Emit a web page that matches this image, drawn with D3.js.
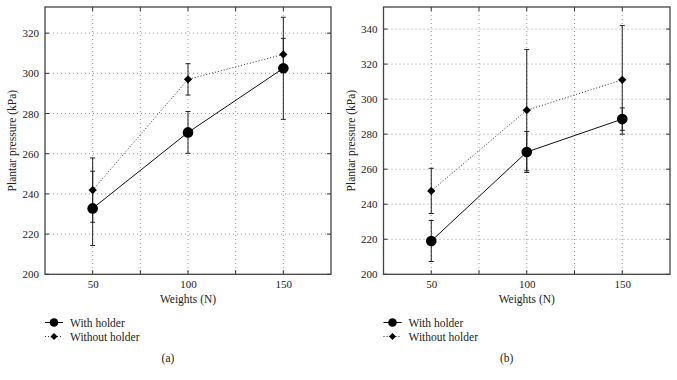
<!DOCTYPE html>
<html><head><meta charset="utf-8">
<script src="https://cdn.jsdelivr.net/npm/d3@7"></script>
<style>body{margin:0;background:#fff}svg{display:block}</style>
</head><body>
<svg id="c" width="677" height="380"></svg>
<script>
const weights = [50, 100, 150];
const xTicks = [50, 100, 150];
const xGrid = [50, 75, 100, 125, 150];
const seriesNames = ["With holder", "Without holder"];
// Panel (a)
const aWith = [232.8, 270.6, 302.5];
const aWithErr = [18.5, 10.4, 25.4];
const aWithout = [241.9, 297.0, 309.4];
const aWithoutErr = [16.0, 7.8, 8.0];
const aYTicks = [200, 220, 240, 260, 280, 300, 320];
// Panel (b)
const bWith = [219.0, 269.8, 288.6];
const bWithErr = [11.7, 11.7, 6.4];
const bWithout = [247.6, 293.7, 311.0];
const bWithoutErr = [12.9, 34.6, 31.0];
const bYTicks = [200, 220, 240, 260, 280, 300, 320, 340];

const svg = d3.select("#c");
const FONT = "Liberation Serif, Times New Roman, serif";
const FS = 11.5;

function panel(cfg) {
  const {left, right, top, bottom, yMax, yTicks, withV, withE, withoutV, withoutE, caption} = cfg;
  const x = d3.scaleLinear().domain([25, 175]).range([left, right]);
  const y = d3.scaleLinear().domain([200, yMax]).range([bottom, top]);
  const g = svg.append("g");
  // grid
  g.selectAll(".vg").data(xGrid).join("line")
    .attr("x1", d => x(d)).attr("x2", d => x(d)).attr("y1", top).attr("y2", bottom)
    .attr("stroke", "#999").attr("stroke-width", 1).attr("stroke-dasharray", "1,3");
  g.selectAll(".hg").data(yTicks.slice(1)).join("line")
    .attr("x1", left).attr("x2", right).attr("y1", d => y(d)).attr("y2", d => y(d))
    .attr("stroke", "#999").attr("stroke-width", 1).attr("stroke-dasharray", "1,3");
  // inward ticks
  g.selectAll(".lt").data(yTicks).join("line")
    .attr("x1", left).attr("x2", left + 4).attr("y1", d => y(d)).attr("y2", d => y(d)).attr("stroke", "#333");
  g.selectAll(".rt").data(yTicks).join("line")
    .attr("x1", right).attr("x2", right - 4).attr("y1", d => y(d)).attr("y2", d => y(d)).attr("stroke", "#333");
  g.selectAll(".bt").data(xGrid).join("line")
    .attr("x1", d => x(d)).attr("x2", d => x(d)).attr("y1", bottom).attr("y2", bottom - 4).attr("stroke", "#333");
  g.selectAll(".tt").data(xGrid).join("line")
    .attr("x1", d => x(d)).attr("x2", d => x(d)).attr("y1", top).attr("y2", top + 4).attr("stroke", "#333");
  // frame
  g.append("rect").attr("x", left).attr("y", top).attr("width", right - left).attr("height", bottom - top)
    .attr("fill", "none").attr("stroke", "#444").attr("stroke-width", 1.3);
  // axis labels
  const yAxis = d3.axisLeft(y).tickValues(yTicks).tickSize(0).tickPadding(6).tickFormat(d3.format("d"));
  const ya = g.append("g").attr("transform", `translate(${left},0)`).call(yAxis);
  ya.select(".domain").remove();
  ya.selectAll("text").attr("font-family", FONT).attr("font-size", 11).attr("fill", "#222");
  const xAxis = d3.axisBottom(x).tickValues(xTicks).tickSize(0).tickPadding(6).tickFormat(d3.format("d"));
  const xa = g.append("g").attr("transform", `translate(0,${bottom})`).call(xAxis);
  xa.select(".domain").remove();
  xa.selectAll("text").attr("font-family", FONT).attr("font-size", 11).attr("fill", "#222");
  g.append("text").attr("x", (left + right) / 2).attr("y", 302.5).attr("text-anchor", "middle")
    .attr("font-family", FONT).attr("font-size", FS).attr("fill", "#222").text("Weights (N)");
  g.append("text").attr("transform", `translate(${left - 29},${(top + bottom) / 2}) rotate(-90)`)
    .attr("text-anchor", "middle").attr("font-family", FONT).attr("font-size", FS).attr("fill", "#222")
    .text("Plantar pressure (kPa)");
  // lines
  const line = d3.line().x((d, i) => x(weights[i])).y(d => y(d));
  g.append("path").datum(withoutV).attr("d", line).attr("fill", "none").attr("stroke", "#333")
    .attr("stroke-width", 1).attr("stroke-dasharray", "1,2");
  g.append("path").datum(withV).attr("d", line).attr("fill", "none").attr("stroke", "#111").attr("stroke-width", 1);
  // error bars
  function errs(vals, es) {
    vals.forEach((v, i) => {
      const cx = x(weights[i]);
      g.append("line").attr("x1", cx).attr("x2", cx).attr("y1", y(v - es[i])).attr("y2", y(v + es[i]))
        .attr("stroke", "#222").attr("stroke-width", 1);
      [v - es[i], v + es[i]].forEach(e => g.append("line").attr("x1", cx - 2.5).attr("x2", cx + 2.5)
        .attr("y1", y(e)).attr("y2", y(e)).attr("stroke", "#222").attr("stroke-width", 1));
    });
  }
  errs(withV, withE);
  errs(withoutV, withoutE);
  // markers
  g.selectAll(".c").data(withV).join("circle").attr("cx", (d, i) => x(weights[i])).attr("cy", d => y(d))
    .attr("r", 5.3).attr("fill", "#000");
  const dia = d3.symbol().type(d3.symbolDiamond2).size(44);
  g.selectAll(".d").data(withoutV).join("path")
    .attr("transform", (d, i) => `translate(${x(weights[i])},${y(d)})`).attr("d", dia).attr("fill", "#000");
  // legend
  const lx = left, ly1 = 322.5, ly2 = 336.5;
  g.append("line").attr("x1", lx).attr("x2", lx + 18).attr("y1", ly1).attr("y2", ly1).attr("stroke", "#111");
  g.append("circle").attr("cx", lx + 9).attr("cy", ly1).attr("r", 4.3).attr("fill", "#000");
  g.append("line").attr("x1", lx).attr("x2", lx + 18).attr("y1", ly2).attr("y2", ly2).attr("stroke", "#333")
    .attr("stroke-dasharray", "1,2");
  g.append("path").attr("transform", `translate(${lx + 9},${ly2})`).attr("d", d3.symbol().type(d3.symbolDiamond2).size(32)).attr("fill", "#000");
  g.append("text").attr("x", lx + 25).attr("y", ly1 + 4).attr("font-family", FONT).attr("font-size", FS)
    .attr("fill", "#222").text(seriesNames[0]);
  g.append("text").attr("x", lx + 25).attr("y", ly2 + 4).attr("font-family", FONT).attr("font-size", FS)
    .attr("fill", "#222").text(seriesNames[1]);
  g.append("text").attr("x", (left + right) / 2 - 20).attr("y", 361.5).attr("text-anchor", "middle")
    .attr("font-family", FONT).attr("font-size", FS).attr("fill", "#222").text(caption);
}

panel({left: 45, right: 331, top: 7, bottom: 274.3, yMax: 333, yTicks: aYTicks,
  withV: aWith, withE: aWithErr, withoutV: aWithout, withoutE: aWithoutErr, caption: "(a)"});
panel({left: 383.5, right: 670, top: 7, bottom: 274.3, yMax: 352.6, yTicks: bYTicks,
  withV: bWith, withE: bWithErr, withoutV: bWithout, withoutE: bWithoutErr, caption: "(b)"});
</script>
</body></html>
